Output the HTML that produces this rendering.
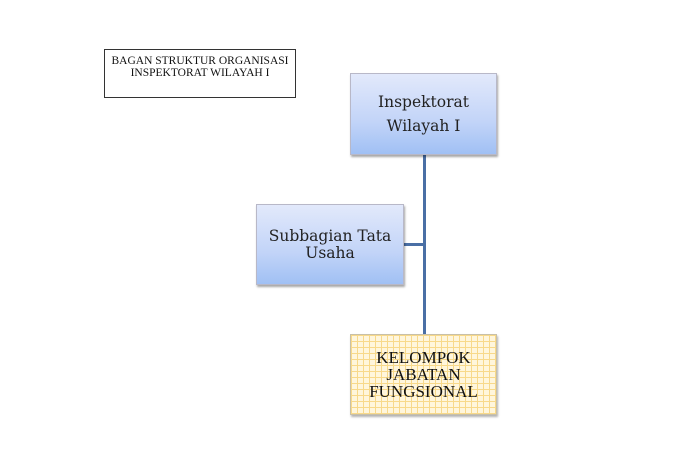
<!DOCTYPE html>
<html><head><style>
body{margin:0;width:696px;height:466px;background:#fff;position:relative;overflow:hidden;font-family:"DejaVu Serif","Liberation Serif",serif;color:#222}
.b{position:absolute;box-sizing:border-box;display:flex;align-items:center;justify-content:center;text-align:center}
.blue{background:linear-gradient(#e2e9fb,#c2d4f8 60%,#a0c0f4);border:1px solid #b8b8c8;box-shadow:1px 2px 2px rgba(0,0,0,.35)}
.l{position:absolute;background:#4a6fa5}
</style></head><body>
<div class="b" style="left:104px;top:49px;width:192px;height:49px;border:1px solid #333;align-items:flex-start;padding-top:5px;font-family:'Liberation Serif',serif;font-size:11.5px;line-height:12px;color:#111">BAGAN STRUKTUR ORGANISASI<br>INSPEKTORAT WILAYAH I</div>
<div class="l" style="left:423px;top:155px;width:3px;height:180px"></div>
<div class="l" style="left:404px;top:243px;width:21px;height:3px"></div>
<div class="b blue" style="left:350px;top:73px;width:147px;height:82px;font-size:15.5px;line-height:24px">Inspektorat<br>Wilayah I</div>
<div class="b blue" style="left:256px;top:204px;width:148px;height:81px;font-size:15.5px;line-height:17px">Subbagian Tata<br>Usaha</div>
<div class="b" style="left:350px;top:334px;width:147px;height:81px;border:1px solid #c8c0a8;box-shadow:1px 2px 2px rgba(0,0,0,.3);background-color:#fff6dc;background-image:linear-gradient(#f8d98a 1px,transparent 1px),linear-gradient(90deg,#f8d98a 1px,transparent 1px);background-size:6px 6px;font-family:'Liberation Serif',serif;font-size:17px;line-height:17px;color:#111">KELOMPOK<br>JABATAN<br>FUNGSIONAL</div>
</body></html>
